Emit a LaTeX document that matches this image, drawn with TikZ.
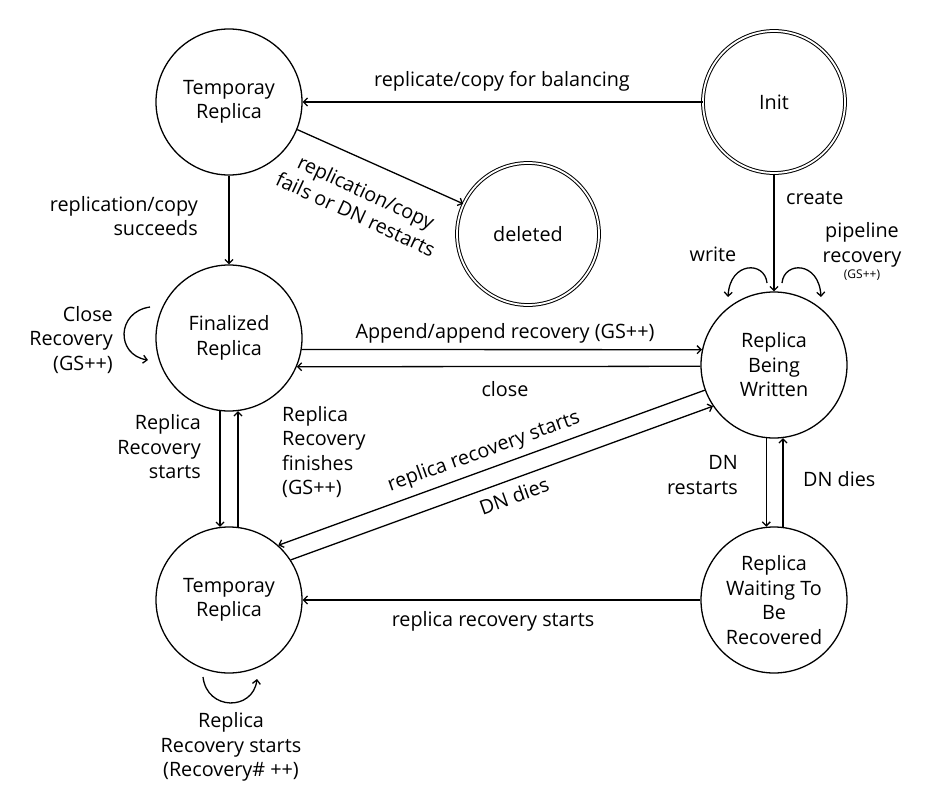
\documentclass[tikz,border=0pt]{standalone}
\usepackage{fontspec}
\setmainfont{Open Sans}
\usetikzlibrary{arrows.meta}
\begin{document}
\begin{tikzpicture}[x=1pt,y=-1pt,
  txt/.style={font=\fontsize{19.8}{24.5}\selectfont, inner sep=0pt, align=center},
  state/.style={txt, circle, draw, line width=1.3pt, minimum size=146pt},
  endstate/.style={txt, circle, draw, line width=1pt, double, double distance=1.8pt, minimum size=142pt},
  arr/.style={line width=1.3pt, -{Straight Barb[length=4pt,width=8pt]}},
  small/.style={font=\fontsize{12}{14}\selectfont, inner sep=0pt}]
\useasboundingbox (0,0) rectangle (937,800);

% states
\node[state]    (tmpa) at (229,102) {Temporay\\Replica};
\node[endstate] (init) at (774,102) {Init};
\node[endstate] (del)  at (528,234) {deleted};
\node[state]    (fin)  at (229,338) {Finalized\\Replica};
\node[state]    (rbw)  at (774,365) {Replica\\Being\\Written};
\node[state]    (tmpb) at (229,600) {Temporay\\Replica};
\node[state]    (wait) at (774,600) {Replica\\Waiting To\\Be\\Recovered};

% transitions between states
\draw[arr] (init.west) -- (tmpa.east);
\draw[arr] (tmpa.-22) -- (del.155);
\draw[arr] (tmpa.south) -- (fin.north);
\draw[arr] (init.south) -- (rbw.north);
\draw[arr] (fin.-9.5) -- (rbw.168);
\draw[arr] (rbw.181.6) -- (fin.-23.4);
\draw[arr] (fin.-97) -- (tmpb.97);
\draw[arr] (tmpb.83.5) -- (fin.-83.5);
\draw[arr] (rbw.200.6) -- (tmpb.48.9);
\draw[arr] (tmpb.33.7) -- (rbw.214.5);
\draw[arr] (rbw.-96.3) -- (wait.96.3);
\draw[arr] (wait.83) -- (rbw.-83);
\draw[arr] (wait.west) -- (tmpb.east);

% self loops
\coordinate (wl1) at (767,283);
\coordinate (wl2) at (728,297);
\coordinate (pl1) at (782,283);
\coordinate (pl2) at (821,297);
\coordinate (cl1) at (150,307);
\coordinate (cl2) at (148,360);
\coordinate (rl1) at (203,677);
\coordinate (rl2) at (257,679);
\draw[arr] (wl1) .. controls (765,261) and (730,261) .. (wl2);
\draw[arr] (pl1) .. controls (784,261) and (819,261) .. (pl2);
\draw[arr] (cl1) .. controls (116,312) and (116,355) .. (cl2);
\draw[arr] (rl1) .. controls (207,711) and (253,711) .. (rl2);

% transition labels
\node[txt] (l1) at (502,81) {replicate/copy for balancing};
\node[txt, rotate=-25] (l2) at (361,203) {replication/copy\\fails or DN restarts};
\node[txt, anchor=east, align=right] (l3) at (198,216) {replication/copy\\succeeds};
\node[txt, anchor=west] (l4) at (786,198) {create};
\node[txt] (l5) at (713,254) {write};
\node[txt] (l6) at (862,245) {pipeline\\recovery};
\node[small] (l7) at (862,275) {(GS++)};
\node[txt, anchor=east, align=right] (l8) at (113,340) {Close\\Recovery\\(GS++)};
\node[txt] (l9) at (505,333) {Append/append recovery (GS++)};
\node[txt] (l10) at (505,389) {close};
\node[txt, anchor=east, align=right] (l11) at (201,447) {Replica\\Recovery\\starts};
\node[txt, anchor=west, align=left] (l12) at (282,452) {Replica\\Recovery\\finishes\\(GS++)};
\node[txt, rotate=19.8] (l13) at (484,452) {replica recovery starts};
\node[txt, rotate=19.8] (l14) at (514,496) {DN dies};
\node[txt, anchor=east, align=right] (l15) at (738,475) {DN\\restarts};
\node[txt, anchor=west] (l16) at (803,479) {DN dies};
\node[txt] (l17) at (493,621) {replica recovery starts};
\node[txt] (l18) at (231,747) {Replica\\Recovery starts\\(Recovery\# ++)};
\end{tikzpicture}
\end{document}
